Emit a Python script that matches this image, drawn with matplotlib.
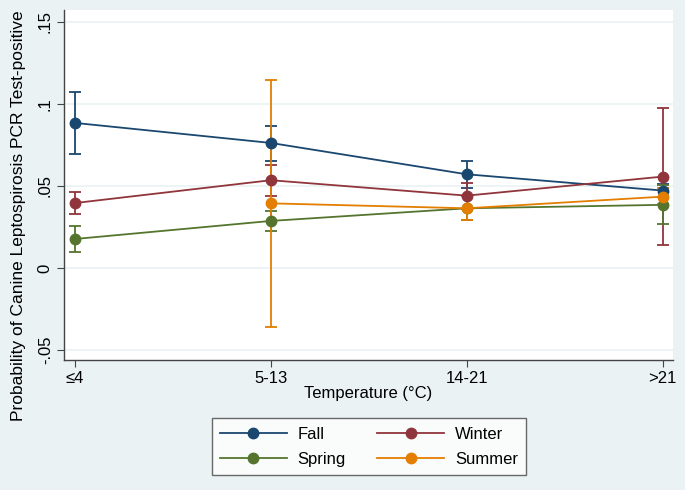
import matplotlib.pyplot as plt
import numpy as np

plt.rcParams['font.family'] = ['Liberation Sans', 'DejaVu Sans']

categories = ['≤4', '5-13', '14-21', '>21']
seasons = ['Fall', 'Winter', 'Spring', 'Summer']
colors = ['#1A476F', '#90353B', '#55752F', '#E37E00']

# point estimates and 95% CI bounds (None = no estimate)
fall = [0.0884, 0.0762, 0.0571, 0.0472]
fall_lo = [0.0695, 0.0650, 0.0486, 0.0430]
fall_hi = [0.1073, 0.0866, 0.0652, 0.0510]

winter = [0.0396, 0.0535, 0.0441, 0.0557]
winter_lo = [0.0331, 0.0440, 0.0360, 0.0138]
winter_hi = [0.0461, 0.0628, 0.0520, 0.0974]

spring = [0.0177, 0.0287, 0.0364, 0.0385]
spring_lo = [0.0099, 0.0227, 0.0290, 0.0266]
spring_hi = [0.0258, 0.0350, 0.0440, 0.0506]

summer = [None, 0.0394, 0.0364, 0.0435]
summer_lo = [None, -0.0360, 0.0290, 0.0390]
summer_hi = [None, 0.1146, 0.0440, 0.0485]

series = [(fall, fall_lo, fall_hi), (winter, winter_lo, winter_hi),
          (spring, spring_lo, spring_hi), (summer, summer_lo, summer_hi)]

bg = '#EAF2F3'
fs = 12
fig = plt.figure(figsize=(6.85, 4.9), dpi=100, facecolor=bg)
ax = fig.add_axes([0.0934, 0.265, 0.8886, 0.715])
ax.set_facecolor('white')

x = np.arange(len(categories))
handles = {}
for name, col, (y, lo, hi) in zip(seasons, colors, series):
    idx = [i for i, v in enumerate(y) if v is not None]
    xs = x[idx]
    ys = np.array([y[i] for i in idx])
    los = np.array([lo[i] for i in idx])
    his = np.array([hi[i] for i in idx])
    ax.errorbar(xs, ys, yerr=[ys - los, his - ys], color=col, fmt='none',
                capsize=4.5, elinewidth=1.3, capthick=1.3, zorder=2)
    h, = ax.plot(xs, ys, '-o', color=col, lw=1.3, markersize=7.5, label=name, zorder=3)
    handles[name] = h

ax.set_xlim(-0.056, 3.051)
ax.set_ylim(-0.0561, 0.1573)
yt = [-0.05, 0, 0.05, 0.1, 0.15]
ax.set_yticks(yt)
ax.set_yticklabels(['-.05', '0', '.05', '.1', '.15'], rotation=90, va='center', fontsize=fs)
ax.set_xticks(x)
ax.set_xticklabels(categories, fontsize=fs)
ax.grid(axis='y', color=bg, lw=1.2)
ax.set_axisbelow(True)
for s in ['top', 'right']:
    ax.spines[s].set_visible(False)
for s in ['left', 'bottom']:
    ax.spines[s].set_color('#444444')
    ax.spines[s].set_linewidth(1.0)
ax.tick_params(direction='out', length=5, color='#444444', pad=3)

ax.set_xlabel('Temperature (°C)', fontsize=fs, labelpad=0)
fig.text(19 / 685, 1 - 216 / 490, 'Probability of Canine Leptospirosis PCR Test-positive',
         rotation=90, ha='center', va='center', fontsize=12.5)

order = ['Fall', 'Spring', 'Winter', 'Summer']
leg = fig.legend([handles[n] for n in order], order, loc='center',
                 bbox_to_anchor=(369 / 685, 1 - 446.7 / 490), ncol=2, fontsize=fs,
                 frameon=True, fancybox=False, handlelength=4.0, columnspacing=1.9,
                 labelspacing=0.6, borderpad=0.5, handletextpad=0.65)
leg.get_frame().set_edgecolor('#444444')
leg.get_frame().set_linewidth(1.0)

fig.savefig('out.png', dpi=100, facecolor=bg)
